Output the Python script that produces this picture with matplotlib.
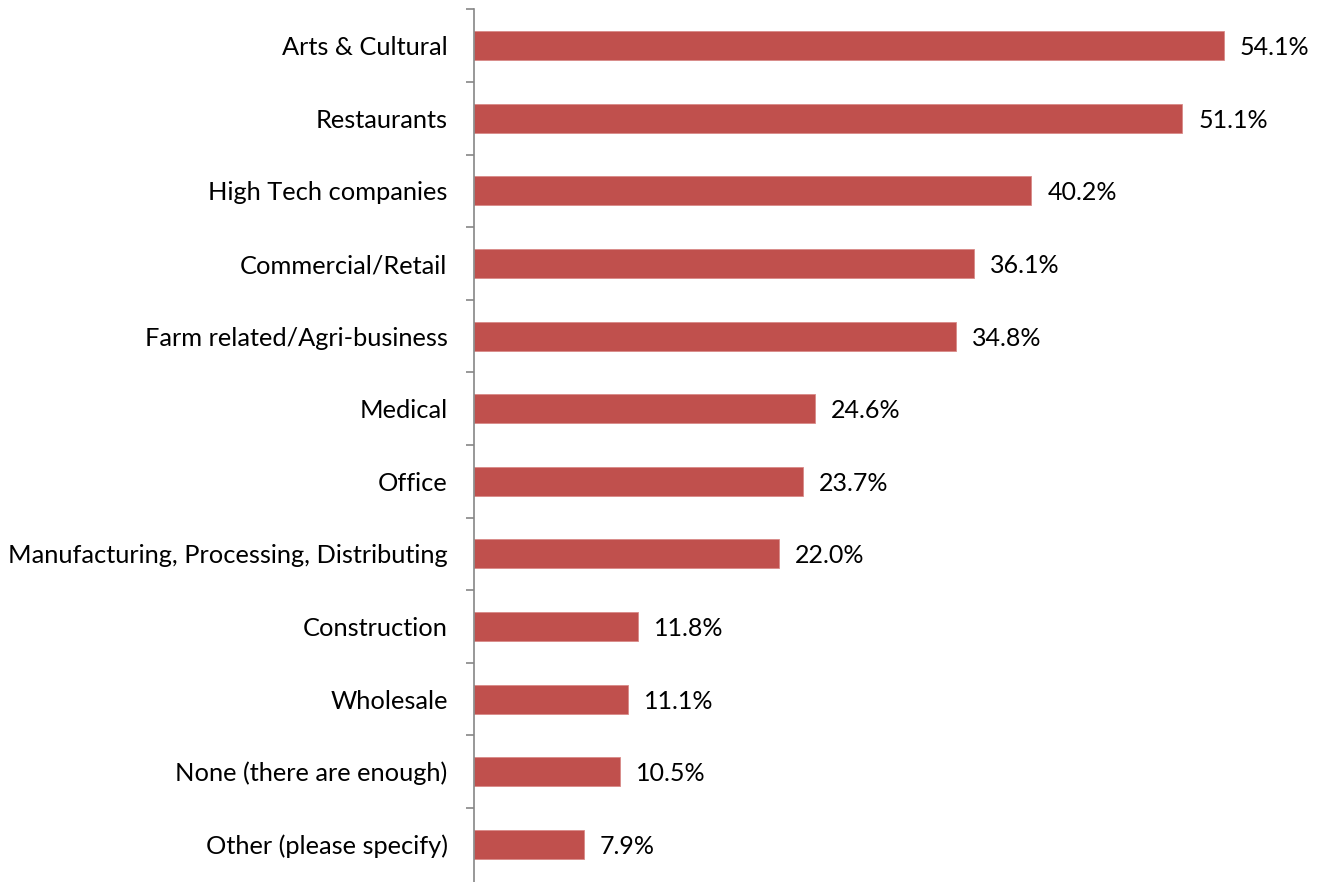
import matplotlib
matplotlib.use("Agg")
import matplotlib.pyplot as plt
from matplotlib.ticker import FixedLocator

categories = ["Arts & Cultural", "Restaurants", "High Tech companies", "Commercial/Retail",
              "Farm related/Agri-business", "Medical", "Office",
              "Manufacturing, Processing, Distributing", "Construction", "Wholesale",
              "None (there are enough)", "Other (please specify)"]
values = [54.1, 51.1, 40.2, 36.1, 34.8, 24.6, 23.7, 22.0, 11.8, 11.1, 10.5, 7.9]
value_labels = ["54.1%", "51.1%", "40.2%", "36.1%", "34.8%", "24.6%", "23.7%",
                "22.0%", "11.8%", "11.1%", "10.5%", "7.9%"]

plt.rcParams['font.family'] = ['Lato', 'DejaVu Sans']

W, H = 1322, 882
fig = plt.figure(figsize=(W / 100, H / 100), dpi=100)
ax_left = 474 / W
ax_bottom = 0 / H
ax_top = (H - 9.5) / H
ax = fig.add_axes([ax_left, ax_bottom, 1 - ax_left, ax_top - ax_bottom])

n = len(categories)
ypos = list(range(n))
ax.barh(ypos, values, height=0.40, color="#C0504D", edgecolor="#D98A88", linewidth=0.6)

px_per_pct = (1224 - 474) / 54.1
ax.set_xlim(0, (W - 474) / px_per_pct)
ax.set_ylim(n - 0.5 + 0.02, -0.5)

for y, v, lab in zip(ypos, values, value_labels):
    ax.annotate(lab, (v, y), xytext=(16, -2), textcoords="offset pixels",
                ha="left", va="center", fontsize=18, color="black")

ax.set_yticks(ypos)
ax.set_yticklabels(categories, fontsize=18.3)
ax.tick_params(axis="y", which="major", length=0, pad=19)
ax.yaxis.set_minor_locator(FixedLocator([i - 0.5 for i in range(n)]))
ax.tick_params(axis="y", which="minor", length=6, width=1.2, color="#868686")
ax.set_xticks([])

for s in ["top", "right", "bottom"]:
    ax.spines[s].set_visible(False)
ax.spines["left"].set_color("#868686")
ax.spines["left"].set_linewidth(1.2)

fig.savefig("out.png", dpi=100)
